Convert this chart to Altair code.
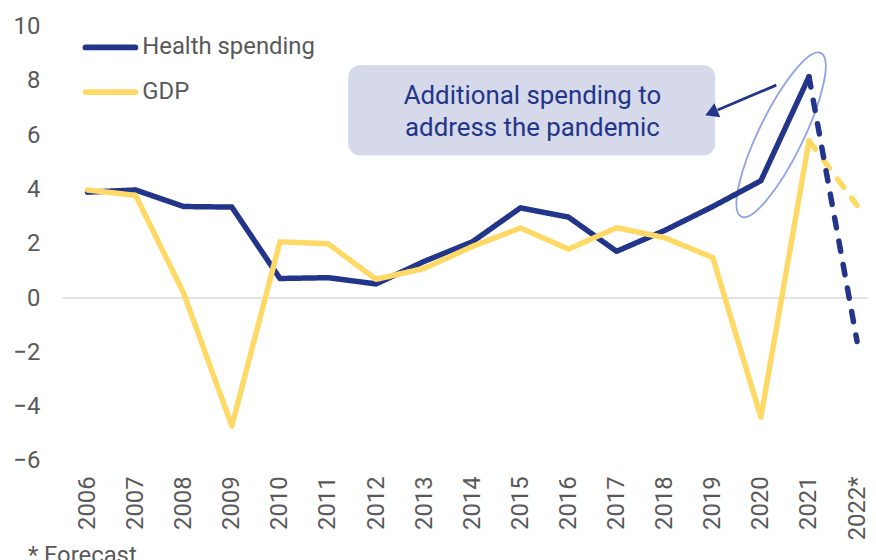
import altair as alt
import pandas as pd

# ---- data ----
years = [2006, 2007, 2008, 2009, 2010, 2011, 2012, 2013, 2014, 2015,
         2016, 2017, 2018, 2019, 2020, 2021, 2022]
tick_labels = ["2006", "2007", "2008", "2009", "2010", "2011", "2012", "2013",
               "2014", "2015", "2016", "2017", "2018", "2019", "2020", "2021", "2022*"]
health = [3.90, 3.98, 3.37, 3.35, 0.72, 0.75, 0.52, 1.35, 2.07, 3.32,
          2.98, 1.72, 2.49, 3.37, 4.32, 8.15, -1.60]
gdp = [3.98, 3.78, 0.17, -4.71, 2.07, 2.00, 0.69, 1.09, 1.90, 2.58,
       1.80, 2.59, 2.22, 1.49, -4.39, 5.79, 3.41]
series_names = ["Health spending", "GDP"]
series_colors = ["#22358b", "#ffd966"]
last_actual_year = 2021
y_ticks = [-6, -4, -2, 0, 2, 4, 6, 8, 10]
y_title = "% y-o-y change"
footnote = "* Forecast"
annotation_lines = ["Additional spending to", "address the pandemic"]

# annotation anchors in data units (year, value)
box_x = [2011.42, 2019.05]
box_y = [5.25, 8.57]
note_x = 2015.25
note_y = [7.13, 5.97]
arrow_from = (2020.32, 7.84)
arrow_to = (2019.10, 6.924)
arrow_head = (2018.97, 6.822)
ellipse_center = (2020.42, 6.01)

NAVY = series_colors[0]
GRAY = "#595959"
FONT = "Roboto"

# ---- build tables ----
rows = []
for name, vals in zip(series_names, [health, gdp]):
    for yr, v in zip(years, vals):
        if yr <= last_actual_year:
            rows.append({"series": name, "year": yr, "value": v, "part": "actual"})
        if yr >= last_actual_year:
            rows.append({"series": name, "year": yr, "value": v, "part": "forecast"})
df = pd.DataFrame(rows)

color_scale = alt.Scale(domain=series_names, range=series_colors)
label_expr = "[" + ",".join("'%s'" % t for t in tick_labels) + "][datum.value - %d]" % years[0]

x_enc = alt.X("year:Q",
              scale=alt.Scale(domain=[2005.4832, 2022.227], nice=False, zero=False),
              axis=alt.Axis(values=years, labelExpr=label_expr, labelAngle=270,
                            labelFontSize=24, labelColor=GRAY, labelFont=FONT,
                            ticks=False, domain=False, grid=False, labelPadding=15,
                            labelOverlap=False, labelFlush=False),
              title=None)
y_enc = alt.Y("value:Q",
              scale=alt.Scale(domain=[-6, 10], nice=False),
              axis=alt.Axis(values=y_ticks, labelFontSize=24, labelColor=GRAY,
                            labelFont=FONT, ticks=False, domain=False, grid=False,
                            labelPadding=23),
              title=None)

base = alt.Chart(df)

zero_rule = alt.Chart(pd.DataFrame({"value": [0]})).mark_rule(
    color="#d9d9d9", strokeWidth=1.5).encode(y=y_enc)


def line_layer(name, part):
    dash = [10.5, 13.5] if part == "forecast" else [1, 0]
    return base.transform_filter(
        (alt.datum.series == name) & (alt.datum.part == part)
    ).mark_line(strokeWidth=5.5, strokeCap="round", strokeJoin="round",
                strokeDash=dash).encode(
        x=x_enc, y=alt.Y("value:Q", title=None),
        color=alt.Color("series:N", scale=color_scale, legend=None),
        order="year:Q")


# annotation box and text
box = alt.Chart(pd.DataFrame({"x": [box_x[0]], "x2": [box_x[1]],
                              "y": [box_y[0]], "y2": [box_y[1]]})).mark_rect(
    cornerRadius=12, color="#d5d9e9").encode(
    x=alt.X("x:Q", title=None), x2="x2:Q", y=alt.Y("y:Q", title=None), y2="y2:Q")

note = alt.Chart(pd.DataFrame({"x": [note_x, note_x], "y": note_y,
                               "t": annotation_lines})).mark_text(
    align="center", baseline="alphabetic", fontSize=26, font=FONT, color=NAVY).encode(
    x=alt.X("x:Q", title=None), y=alt.Y("y:Q", title=None), text="t:N")

arrow_line = alt.Chart(pd.DataFrame({"x": [arrow_from[0]], "x2": [arrow_to[0]],
                                     "y": [arrow_from[1]], "y2": [arrow_to[1]]})).mark_rule(
    color=NAVY, strokeWidth=2.8).encode(
    x=alt.X("x:Q", title=None), x2="x2:Q", y=alt.Y("y:Q", title=None), y2="y2:Q")

arrow_tip = alt.Chart(pd.DataFrame({"x": [arrow_head[0]], "y": [arrow_head[1]]})).mark_point(
    shape="triangle-left", filled=True, size=230, angle=337, color=NAVY, opacity=1).encode(
    x=alt.X("x:Q", title=None), y=alt.Y("y:Q", title=None))

ellipse_path = "M 0,-1 A 0.245,1 0 1,1 0,1 A 0.245,1 0 1,1 0,-1 Z"
ellipse = alt.Chart(pd.DataFrame({"x": [ellipse_center[0]], "y": [ellipse_center[1]]})).mark_point(
    shape=ellipse_path, filled=False, size=33489, angle=26,
    stroke="#8fa2e6", strokeWidth=1.8, opacity=1).encode(
    x=alt.X("x:Q", title=None), y=alt.Y("y:Q", title=None))

# manual legend (decoration)
legend_layers = []
for i, name in enumerate(series_names):
    ly = 21 + 45 * i
    legend_layers.append(
        alt.Chart(pd.DataFrame({"series": [name]})).mark_rule(
            strokeWidth=6, strokeCap="round").encode(
            x=alt.value(23), x2=alt.value(73), y=alt.value(ly),
            color=alt.Color("series:N", scale=color_scale, legend=None)))
    legend_layers.append(
        alt.Chart(pd.DataFrame({"series": [name]})).mark_text(
            align="left", baseline="middle", fontSize=24, font=FONT, color=GRAY).encode(
            x=alt.value(80), y=alt.value(ly), text="series:N"))

title_txt = alt.Chart(pd.DataFrame({"t": [y_title]})).mark_text(
    align="left", baseline="alphabetic", fontSize=24, font=FONT, color=GRAY).encode(
    x=alt.value(-55), y=alt.value(-25), text="t:N")

foot_txt = alt.Chart(pd.DataFrame({"t": [footnote]})).mark_text(
    align="left", baseline="alphabetic", fontSize=24, font=FONT, color=GRAY).encode(
    x=alt.value(-35), y=alt.value(540), text="t:N")

chart = alt.layer(
    zero_rule,
    box,
    note,
    ellipse,
    arrow_line,
    arrow_tip,
    line_layer("Health spending", "actual"),
    line_layer("GDP", "actual"),
    line_layer("GDP", "forecast"),
    line_layer("Health spending", "forecast"),
    *legend_layers,
    title_txt,
    foot_txt,
).properties(
    width=810, height=437,
    autosize=alt.AutoSizeParams(type="none"),
    padding={"left": 55, "top": 17, "right": 0, "bottom": 98},
).configure(
    font=FONT
).configure_axis(
    domain=False, ticks=False, grid=False
).configure_view(
    stroke=None
)

chart.save("out.html", embed_options={"renderer": "svg", "actions": False})
